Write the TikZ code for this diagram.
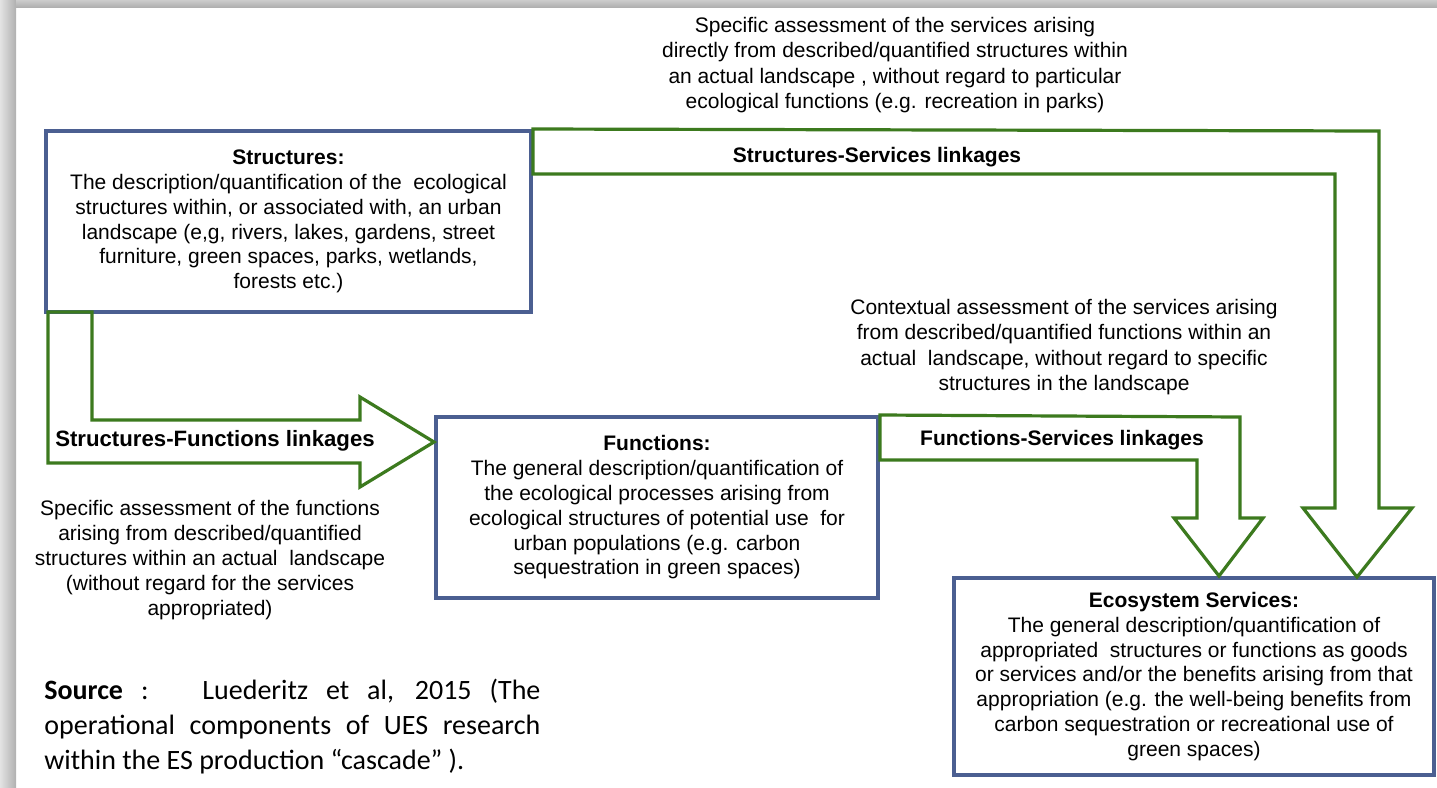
\documentclass[tikz,border=0pt]{standalone}
\usepackage{fontspec}
\setmainfont{Liberation Sans}
\newfontfamily\calib{Carlito}
\usetikzlibrary{calc}
\definecolor{boxblue}{HTML}{4B5F91}
\definecolor{arrgreen}{HTML}{3C7A1E}
\tikzset{
  box/.style={draw=boxblue, line width=2pt, fill=white, inner sep=0pt, align=center,
    font=\fontsize{10.5}{12.4}\selectfont},
  blockarrow/.style={draw=arrgreen, line width=1.6pt, line join=miter},
  txt/.style={align=center, inner sep=0pt, font=\fontsize{10.5}{12.6}\selectfont},
  lbl/.style={inner sep=0pt, font=\bfseries\fontsize{10.5}{12.6}\selectfont},
  src/.style={inner sep=0pt, anchor=north west, text width=248pt, align=justify,
    font=\calib\fontsize{14}{17.5}\selectfont},
}
\begin{document}
\begin{tikzpicture}[x=0.5pt,y=-0.5pt]
\useasboundingbox (0,0) rectangle (1437,788);
\fill[white] (0,0) rectangle (1437,788);
\shade[left color=gray!22, right color=gray!62] (0,0) rectangle (16,788);
\shade[top color=gray!40, bottom color=gray!62] (16,0) rectangle (1437,7);

% boxes
\node[box, minimum width=242.5pt, minimum height=90.5pt] (S) at (288.5,221.5)
  {\textbf{Structures:}\\
   The description/quantification of the\ \ ecological\\
   structures within, or associated with, an urban\\
   landscape (e,g, rivers, lakes, gardens, street\\
   furniture, green spaces, parks, wetlands,\\
   forests etc.)};
\node[box, minimum width=221pt, minimum height=90.5pt] (F) at (657,507.5)
  {\textbf{Functions:}\\
   The general description/quantification of\\
   the ecological processes arising from\\
   ecological structures of potential use\ \ for\\
   urban populations (e.g. carbon\\
   sequestration in green spaces)};
\node[box, minimum width=240pt, minimum height=98.5pt] (E) at (1194,676.5)
  {\textbf{Ecosystem Services:}\\
   The general description/quantification of\\
   appropriated\ \ structures or functions as goods\\
   or services and/or the benefits arising from that\\
   appropriation (e.g. the well-being benefits from\\
   carbon sequestration or recreational use of\\
   green spaces)};

% block arrows
\coordinate (a1) at (1379,131);
\coordinate (a2) at (1335,174);
\draw[blockarrow] (S.north east) -- (a1) -- (1379,508) -- (1412,508)
  -- (1357,577) -- (1303,508) -- (1335,508) -- (a2) -- (S.east |- a2) -- cycle;
\coordinate (b1) at (1240,417);
\coordinate (b2) at (1197,460);
\draw[blockarrow] (F.north east) -- (b1) -- (1240,518) -- (1263,518)
  -- (1219,576) -- (1174,518) -- (1197,518) -- (b2) -- (F.east |- b2) -- cycle;
\coordinate (c1) at (92,420);
\coordinate (c2) at (48,463);
\draw[blockarrow] (48,312) -- (92,312) -- (c1) -- (360,420) -- (360,397)
  -- (F.west |- 0,442) -- (360,487) -- (360,463) -- (c2) -- cycle;

% labels
\node[lbl] (lSS) at (877,157) {Structures-Services linkages};
\node[lbl] (lFS) at (1062,440) {Functions-Services linkages};
\node[lbl, font=\bfseries\fontsize{11.1}{13}\selectfont] (lSF) at (215,441) {Structures-Functions linkages};

% annotations
\node[txt] (t1) at (895,65)
  {Specific assessment of the services arising\\
   directly from described/quantified structures within\\
   an actual landscape , without regard to particular\\
   ecological functions (e.g. recreation in parks)};
\node[txt] (t2) at (1064,347)
  {Contextual assessment of the services arising\\
   from described/quantified functions within an\\
   actual\ \ landscape, without regard to specific\\
   structures in the landscape};
\node[txt] (t3) at (210,560)
  {Specific assessment of the functions\\
   arising from described/quantified\\
   structures within an actual\ \ landscape\\
   (without regard for the services\\
   appropriated)};

% source
\node[src] (src) at (44,679)
  {\textbf{Source} :\ \ \ Luederitz et al, 2015 (The\linebreak
   operational components of UES research\linebreak
   within the ES production “cascade” ).};
\end{tikzpicture}
\end{document}
